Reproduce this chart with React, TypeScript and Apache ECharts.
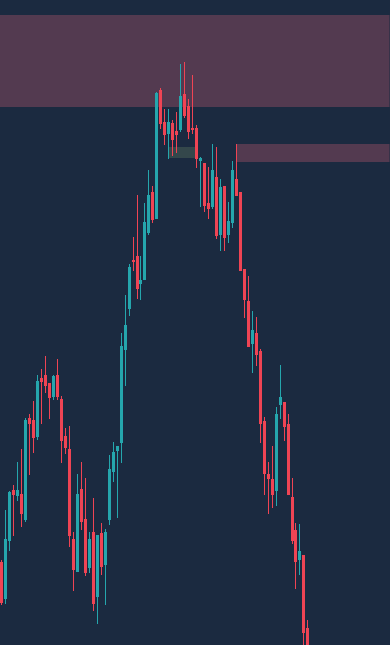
import React, { useEffect, useRef } from "react";
import * as echarts from "echarts";

// OHLC values (price), one entry per bar
const opens = [
  1.0438, 1.0401, 1.0459, 1.0510, 1.0504, 1.0506, 1.0480, 1.0582, 1.0580, 1.0563,
  1.0622, 1.0625, 1.0617, 1.0603, 1.0625, 1.0601, 1.0564, 1.0551, 1.0461, 1.0428,
  1.0511, 1.0481, 1.0432, 1.0468, 1.0403, 1.0467, 1.0435, 1.0480, 1.0528, 1.0549,
  1.0557, 1.0650, 1.0691, 1.0740, 1.0744, 1.0716, 1.0720, 1.0767, 1.0808, 1.0781,
  1.0910, 1.0878, 1.0866, 1.0877, 1.0869, 1.0870, 1.0906, 1.0894, 1.0872, 1.0872,
  1.0839, 1.0837, 1.0797, 1.0793, 1.0823, 1.0765, 1.0814, 1.0765, 1.0777, 1.0821,
  1.0808, 1.0731, 1.0699, 1.0656, 1.0667, 1.0649, 1.0579, 1.0526, 1.0521, 1.0509,
  1.0595, 1.0598, 1.0576, 1.0503, 1.0470, 1.0440, 1.0445, 1.0372,
];
const closes = [
  1.0397, 1.0461, 1.0508, 1.0505, 1.0510, 1.0486, 1.0580, 1.0576, 1.0562, 1.0619,
  1.0618, 1.0614, 1.0602, 1.0624, 1.0603, 1.0559, 1.0552, 1.0464, 1.0430, 1.0506,
  1.0478, 1.0427, 1.0461, 1.0396, 1.0465, 1.0433, 1.0468, 1.0531, 1.0548, 1.0554,
  1.0654, 1.0675, 1.0733, 1.0738, 1.0711, 1.0720, 1.0778, 1.0805, 1.0780, 1.0907,
  1.0876, 1.0865, 1.0878, 1.0860, 1.0865, 1.0904, 1.0884, 1.0868, 1.0870, 1.0841,
  1.0842, 1.0794, 1.0791, 1.0830, 1.0764, 1.0813, 1.0762, 1.0779, 1.0830, 1.0804,
  1.0729, 1.0700, 1.0653, 1.0670, 1.0645, 1.0576, 1.0526, 1.0521, 1.0505, 1.0586,
  1.0603, 1.0573, 1.0505, 1.0459, 1.0438, 1.0449, 1.0367, 1.0340,
];
const lows = [
  1.0395, 1.0396, 1.0449, 1.0464, 1.0499, 1.0473, 1.0478, 1.0525, 1.0547, 1.0560,
  1.0576, 1.0607, 1.0581, 1.0600, 1.0600, 1.0537, 1.0546, 1.0453, 1.0409, 1.0428,
  1.0470, 1.0424, 1.0427, 1.0389, 1.0376, 1.0425, 1.0395, 1.0475, 1.0518, 1.0482,
  1.0537, 1.0614, 1.0684, 1.0729, 1.0701, 1.0700, 1.0720, 1.0765, 1.0777, 1.0781,
  1.0871, 1.0855, 1.0841, 1.0844, 1.0847, 1.0868, 1.0882, 1.0861, 1.0866, 1.0832,
  1.0793, 1.0788, 1.0781, 1.0791, 1.0761, 1.0749, 1.0749, 1.0757, 1.0772, 1.0804,
  1.0729, 1.0682, 1.0653, 1.0627, 1.0634, 1.0557, 1.0505, 1.0486, 1.0492, 1.0494,
  1.0581, 1.0559, 1.0505, 1.0456, 1.0411, 1.0425, 1.0350, 1.0330,
];
const highs = [
  1.0440, 1.0490, 1.0509, 1.0515, 1.0538, 1.0551, 1.0582, 1.0586, 1.0599, 1.0625,
  1.0631, 1.0644, 1.0617, 1.0625, 1.0641, 1.0604, 1.0572, 1.0574, 1.0468, 1.0526,
  1.0538, 1.0522, 1.0468, 1.0502, 1.0465, 1.0477, 1.0471, 1.0545, 1.0558, 1.0554,
  1.0667, 1.0705, 1.0736, 1.0763, 1.0805, 1.0744, 1.0797, 1.0830, 1.0814, 1.0908,
  1.0912, 1.0891, 1.0891, 1.0880, 1.0888, 1.0936, 1.0938, 1.0901, 1.0925, 1.0875,
  1.0843, 1.0837, 1.0833, 1.0856, 1.0853, 1.0821, 1.0814, 1.0798, 1.0839, 1.0856,
  1.0808, 1.0731, 1.0724, 1.0689, 1.0683, 1.0651, 1.0583, 1.0538, 1.0554, 1.0593,
  1.0635, 1.0598, 1.0586, 1.0522, 1.0477, 1.0476, 1.0445, 1.0380,
];

// Empty bars reserved on the right side of the chart
const FUTURE_BARS = 20;
const categories = Array.from({ length: opens.length + FUTURE_BARS }, (_, i) => String(i + 1));

// Zones (price bounds, start bar index)
const upperZone = { top: 1.0985, bottom: 1.0893 };
const rightZone = { top: 1.0856, bottom: 1.0838, startBar: 59 };
const greyZone = { top: 1.0853, bottom: 1.0842, startBar: 42, endBar: 49 };

const Y_MIN = 1.0355;
const Y_MAX = 1.1;

const UP = "#25a6ad";
const DOWN = "#ef4454";

export default function App() {
  const ref = useRef<HTMLDivElement>(null);

  useEffect(() => {
    if (!ref.current) return;
    const chart = echarts.init(ref.current, undefined, { renderer: "svg" });
    const data = opens.map((o, i) => [i, o, closes[i], lows[i], highs[i]]);
    chart.setOption({
      animation: false,
      backgroundColor: "#1b2a40",
      grid: { left: -2.5, right: 0.5, top: 0, bottom: 0 },
      xAxis: {
        type: "category",
        data: categories,
        boundaryGap: true,
        show: false,
      },
      yAxis: {
        type: "value",
        min: Y_MIN,
        max: Y_MAX,
        show: false,
        splitLine: { show: false },
      },
      series: [
        {
          type: "custom",
          data,
          encode: { x: 0, y: [1, 2, 3, 4] },
          z: 2,
          renderItem: (params: any, api: any) => {
            const k = api.value(0);
            const o = api.value(1);
            const c = api.value(2);
            const l = api.value(3);
            const h = api.value(4);
            const pO = api.coord([k, o]);
            const pC = api.coord([k, c]);
            const pL = api.coord([k, l]);
            const pH = api.coord([k, h]);
            const cx = pO[0];
            const color = c >= o ? UP : DOWN;
            const top = Math.round(Math.min(pO[1], pC[1]));
            const bot = Math.round(Math.max(pO[1], pC[1]));
            const hy = Math.round(pH[1]);
            const ly = Math.round(pL[1]);
            return {
              type: "group",
              children: [
                {
                  type: "rect",
                  shape: { x: Math.round(cx - 0.6), y: hy, width: 1, height: Math.max(1, ly - hy) },
                  style: { fill: color },
                },
                {
                  type: "rect",
                  shape: { x: Math.round(cx - 1.6), y: top, width: 3, height: Math.max(1, bot - top) },
                  style: { fill: color },
                },
              ],
            };
          },
          markArea: {
            silent: true,
            z: 1,
            data: [
              [
                { yAxis: upperZone.top, itemStyle: { color: "#533a50" } },
                { yAxis: upperZone.bottom },
              ],
              [
                {
                  xAxis: categories[rightZone.startBar],
                  yAxis: rightZone.top,
                  itemStyle: { color: "#533a50" },
                },
                { yAxis: rightZone.bottom },
              ],
              [
                {
                  xAxis: categories[greyZone.startBar],
                  yAxis: greyZone.top,
                  itemStyle: { color: "#34474b" },
                },
                { xAxis: categories[greyZone.endBar], yAxis: greyZone.bottom },
              ],
            ],
          },
        },
      ],
    });
    return () => chart.dispose();
  }, []);

  return (
    <div
      ref={ref}
      style={{ position: "fixed", left: 0, top: 0, width: 390, height: 645 }}
    />
  );
}
